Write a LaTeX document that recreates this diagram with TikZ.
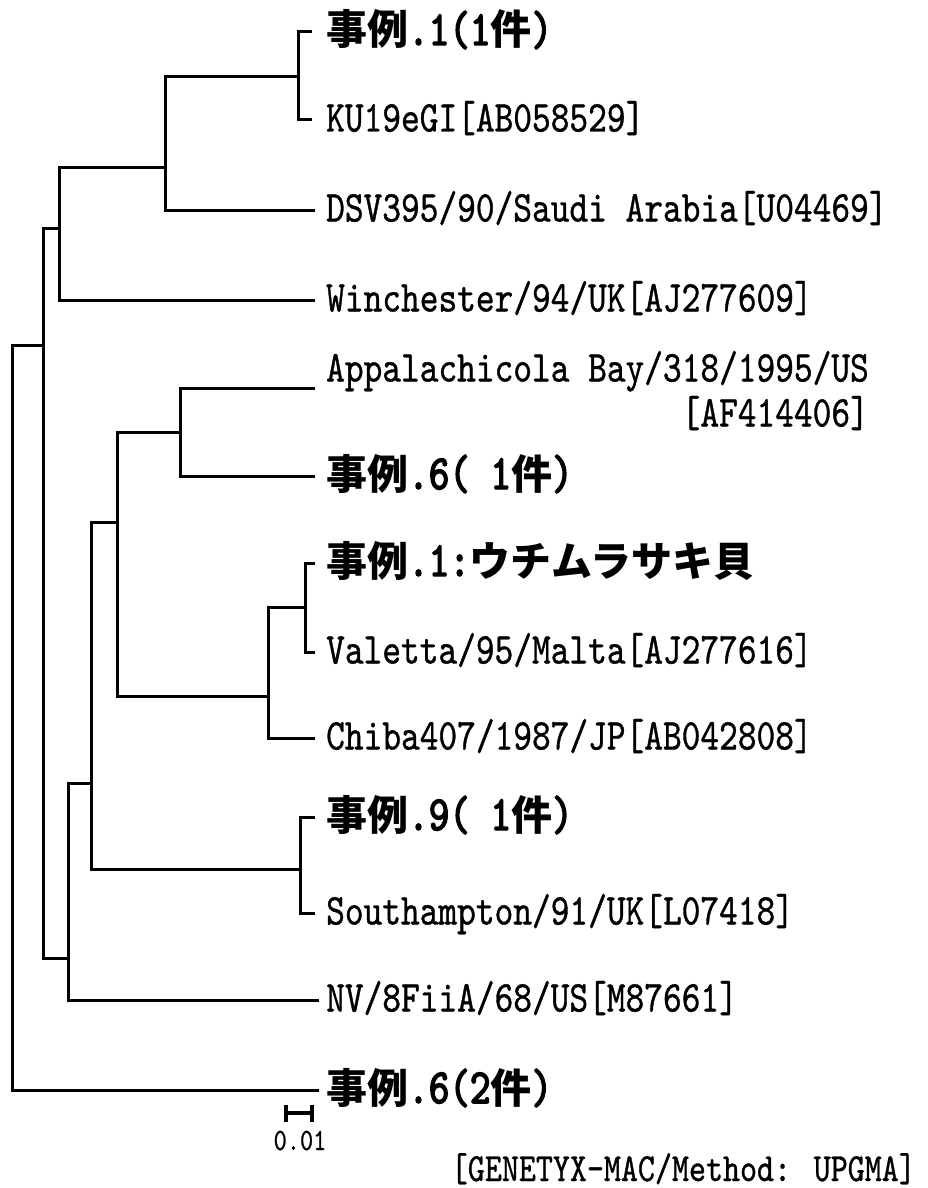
\documentclass[tikz,border=0pt]{standalone}
\usepackage{fontspec}
\newfontfamily\lmt{lmmono10-regular}[Extension=.otf,FakeStretch=0.81,FakeBold=0.8]
\newfontfamily\lmtb{lmmono10-regular}[Extension=.otf,FakeStretch=0.8,FakeBold=3]
\newfontfamily\cjk{Noto Sans CJK JP}
\newcommand\latf{\lmt\fontsize{44}{45}\selectfont}
\newcommand\jk[1]{{\cjk\bfseries\fontsize{41}{42}\selectfont #1}}
\newcommand\jh[1]{{\lmtb\fontsize{49}{49}\selectfont #1}}
\begin{document}
\begin{tikzpicture}[x=1pt,y=-1pt,
  edge/.style={line width=3pt,line cap=rect,line join=miter},
  lab/.style={inner sep=0pt,anchor=base west,font=\latf},
  jlab/.style={inner sep=0pt,anchor=base west}]
\useasboundingbox[fill=white] (0,0) rectangle (927,1188);
% leaf tips
\coordinate (t1) at (310,32);
\coordinate (t2) at (310,120);
\coordinate (t3) at (313,210);
\coordinate (t4) at (313,300);
\coordinate (t5) at (313,388);
\coordinate (t6) at (313,476);
\coordinate (t7) at (313,563);
\coordinate (t8) at (313,652);
\coordinate (t9) at (313,738);
\coordinate (t10) at (313,817);
\coordinate (t11) at (313,913);
\coordinate (t12) at (317,1000);
\coordinate (t13) at (317,1090);
% internal nodes
\coordinate (nA) at (298,77);
\coordinate (nB) at (165,167);
\coordinate (nC) at (59,228);
\coordinate (nD) at (43,345);
\coordinate (root) at (12,345);
\coordinate (nE) at (68,958);
\coordinate (nF) at (91,783);
\coordinate (nG) at (117,522);
\coordinate (nH) at (180,432);
\coordinate (nI) at (268,696);
\coordinate (nJ) at (305,607);
\coordinate (nK) at (300,869);
% edges
\draw[edge] (root) |- (nD);
\draw[edge] (root) |- (t13);
\draw[edge] (nD) |- (nC);
\draw[edge] (nD) |- (nE);
\draw[edge] (nC) |- (nB);
\draw[edge] (nC) |- (t4);
\draw[edge] (nB) |- (nA);
\draw[edge] (nB) |- (t3);
\draw[edge] (nA) |- (t1);
\draw[edge] (nA) |- (t2);
\draw[edge] (nE) |- (nF);
\draw[edge] (nE) |- (t12);
\draw[edge] (nF) |- (nG);
\draw[edge] (nF) |- (nK);
\draw[edge] (nG) |- (nH);
\draw[edge] (nG) |- (nI);
\draw[edge] (nH) |- (t5);
\draw[edge] (nH) |- (t6);
\draw[edge] (nI) |- (nJ);
\draw[edge] (nI) |- (t9);
\draw[edge] (nJ) |- (t7);
\draw[edge] (nJ) |- (t8);
\draw[edge] (nK) |- (t10);
\draw[edge] (nK) |- (t11);
% labels
\node[jlab] (l1) at (326,45) {\jk{事例}\jh{.1(1}\jk{件}\jh{)}};
\node[lab] (l2) at (326,131.5) {KU19eGI[AB058529]};
\node[lab] (l3) at (326,221.5) {DSV395/90/Saudi Arabia[U04469]};
\node[lab] (l4) at (326,311.5) {Winchester/94/UK[AJ277609]};
\node[lab] (l5) at (326,381.5) {Appalachicola Bay/318/1995/US};
\node[lab,anchor=base east] (l5b) at ([yshift=-45pt]l5.base east) {[AF414406]};
\node[jlab] (l6) at (326,489) {\jk{事例}\jh{.6( 1}\jk{件}\jh{)}};
\node[jlab] (l7) at (326,576) {\jk{事例}\jh{.1:}\jk{ウチムラサキ貝}};
\node[lab] (l8) at (326,663.5) {Valetta/95/Malta[AJ277616]};
\node[lab] (l9) at (326,749.5) {Chiba407/1987/JP[AB042808]};
\node[jlab] (l10) at (326,830) {\jk{事例}\jh{.9( 1}\jk{件}\jh{)}};
\node[lab] (l11) at (326,924.5) {Southampton/91/UK[L07418]};
\node[lab] (l12) at (326,1011.5) {NV/8FiiA/68/US[M87661]};
\node[jlab] (l13) at (326,1103) {\jk{事例}\jh{.6(2}\jk{件}\jh{)}};
% scale bar
\coordinate (s1) at (286,1113);
\coordinate (s2) at (312,1113);
\draw[line width=4pt] (s1) -- (s2);
\draw[line width=4pt] ([yshift=8.5pt]s1) -- ([yshift=-8.5pt]s1);
\draw[line width=4pt] ([yshift=8.5pt]s2) -- ([yshift=-8.5pt]s2);
\node[inner sep=0pt,anchor=base,font=\lmt\fontsize{31}{31}\selectfont] (sc) at (300,1150) {0.01};
% footer
\node[inner sep=0pt,anchor=base east,font=\lmt\fontsize{40}{40}\selectfont] (ft) at (916,1181) {[GENETYX-MAC/Method: UPGMA]};
\end{tikzpicture}
\end{document}
